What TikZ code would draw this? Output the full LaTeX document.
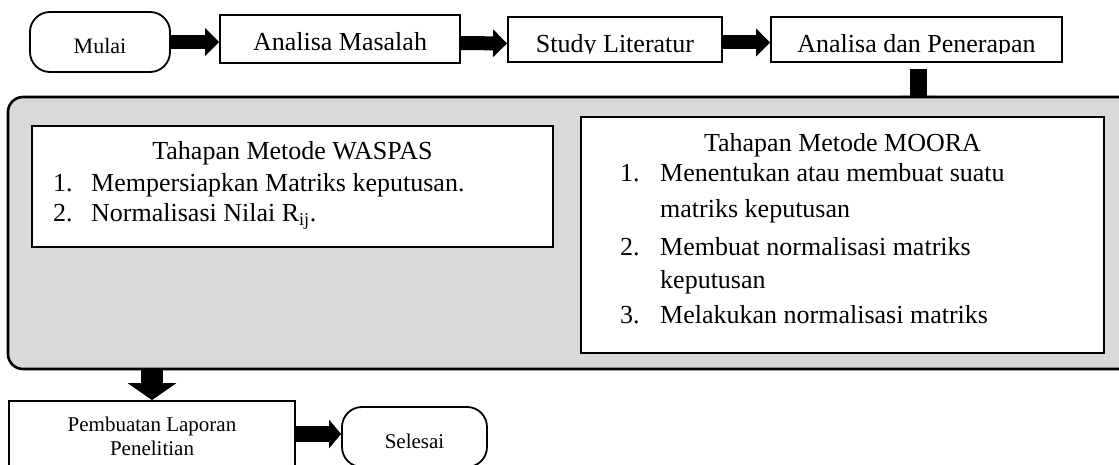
\documentclass[tikz,border=0pt]{standalone}
\usepackage{fontspec}
\setmainfont{Liberation Serif}
\usetikzlibrary{positioning,arrows.meta}
\definecolor{panelgray}{RGB}{217,217,217}
\tikzset{
  kotak/.style={draw,line width=1.8pt,fill=white,inner sep=0pt},
  terminal/.style={kotak,rounded corners=20pt,minimum width=140pt,minimum height=60pt},
  panel/.style={draw,line width=2.6pt,fill=panelgray,rounded corners=15pt,inner sep=0pt},
  blokpanah/.style={line width=14pt,-{Triangle[length=14pt,width=27pt]}},
  teks/.style={font=\fontsize{26}{30}\selectfont,inner sep=0pt,anchor=base},
  teksk/.style={font=\fontsize{21}{24}\selectfont,inner sep=0pt,anchor=base},
  nomor/.style={teks,anchor=base west}
}
\begin{document}
\begin{tikzpicture}[x=1pt,y=-1pt]
    \useasboundingbox (0,0) rectangle (1119,465);
    \clip (0,0) rectangle (1119,465);
    \node[terminal] (mulai) at (100,42) {};
    \node[kotak,minimum width=240pt,minimum height=48pt] (masalah) at (340,39) {};
    \node[kotak,minimum width=214pt,minimum height=45pt] (literatur) at (615,39.5) {};
    \node[kotak,minimum width=291pt,minimum height=45pt] (penerapan) at (916.5,39.5) {};
    \begin{scope}
      \clip (0,0) rectangle (1119,53.5);
      \node[teks,font=\fontsize{22}{26}\selectfont] at (mulai.center |- 0,54) {Mulai};
      \node[teks] at (masalah.center |- 0,51) {Analisa Masalah};
      \node[teks] at (literatur.center |- 0,53) {Study Literatur};
      \node[teks] at (penerapan.center |- 0,53) {Analisa dan Penerapan};
    \end{scope}
    \draw[blokpanah] (mulai.east) -- (masalah.west |- mulai.east);
    \draw[blokpanah] ([yshift=-4pt]masalah.east) -- ([yshift=-4pt]literatur.west);
    \draw[blokpanah] ([yshift=-3pt]literatur.east) -- ([yshift=-3pt]penerapan.west);
    \draw[blokpanah,line width=17pt,-{Triangle[length=14pt,width=33pt]}]
      ([xshift=2pt,yshift=-6pt]penerapan.south) -- ++(0,41);
    \node[panel,minimum width=1127pt,minimum height=272pt] (proses) at (571.5,233) {};
    \node[kotak,line width=1.6pt,minimum width=521pt,minimum height=121pt] (waspas) at (292.5,186.5) {};
    \node[kotak,line width=1.6pt,minimum width=523pt,minimum height=236pt] (moora) at (842.5,235) {};
    \node[teks] at (waspas.center |- 0,160) {Tahapan Metode WASPAS};
    \node[nomor] at (53,192) {1.};
    \node[nomor] at (91,192) {Mempersiapkan Matriks keputusan.};
    \node[nomor] at (53,222) {2.};
    \node[nomor] at (91,222) {Normalisasi Nilai R\textsubscript{ij}.};
    \node[teks] at (moora.center |- 0,152) {Tahapan Metode MOORA};
    \node[nomor] at (620,182) {1.};
    \node[nomor] at (660,182) {Menentukan atau membuat suatu};
    \node[nomor] at (660,218) {matriks keputusan};
    \node[nomor] at (620,255) {2.};
    \node[nomor] at (660,255) {Membuat normalisasi matriks};
    \node[nomor] at (660,288) {keputusan};
    \node[nomor] at (620,323) {3.};
    \node[nomor] at (660,323) {Melakukan normalisasi matriks};
    \node[kotak,minimum width=286pt,minimum height=80pt] (laporan) at (152,441) {};
    \node[terminal,minimum width=145pt] (selesai) at (414.5,437) {};
    \node[teksk] at (laporan.center |- 0,431) {Pembuatan Laporan};
    \node[teksk] at (laporan.center |- 0,455) {Penelitian};
    \node[teksk] at (selesai.center |- 0,448) {Selesai};
    \draw[blokpanah,line width=22pt,-{Triangle[length=17pt,width=48pt]}]
      (laporan.north |- proses.south) -- (laporan.north);
    \draw[blokpanah,line width=16pt,-{Triangle[length=12pt,width=28pt]}]
      ([yshift=3pt]selesai.west -| laporan.east) -- ([yshift=3pt]selesai.west);
  \end{tikzpicture}
\end{document}
